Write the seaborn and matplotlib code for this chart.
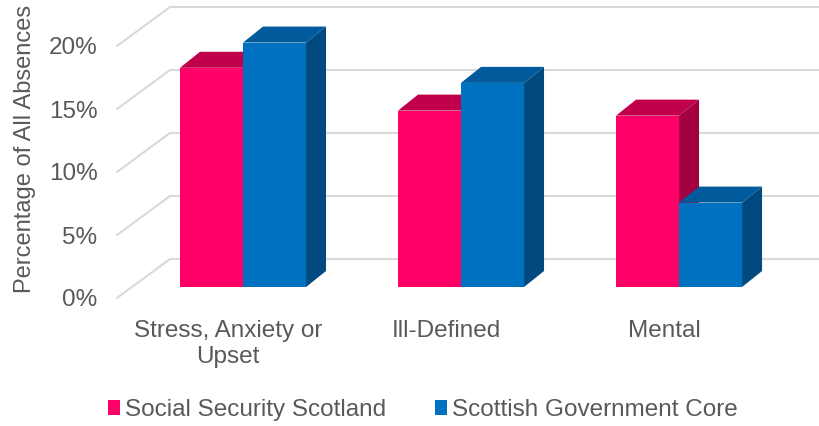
import matplotlib
matplotlib.use("Agg")
import matplotlib.pyplot as plt
import pandas as pd
import seaborn as sns
from matplotlib.patches import Polygon

# data (percent of all absences)
categories = ["Stress, Anxiety or\nUpset", "Ill-Defined", "Mental"]
series = ["Social Security Scotland", "Scottish Government Core"]
sss_values = [17.4, 14.0, 13.6]
sgc_values = [19.4, 16.2, 6.7]
tick_values = [0, 5, 10, 15, 20]
tick_labels = ["0%", "5%", "10%", "15%", "20%"]

front_colors = ["#FF0066", "#0070C0"]
top_colors = ["#C0004B", "#005A9C"]
side_colors = ["#A3003F", "#004A80"]
grid_color = "#D9D9D9"
text_color = "#595959"

df = pd.DataFrame({
    "category": categories * 2,
    "series": [s for s in series for _ in categories],
    "value": sss_values + sgc_values,
})

sns.set_theme(style="white")
plt.rcParams["font.family"] = ["Liberation Sans", "DejaVu Sans"]

fig = plt.figure(figsize=(8.19, 4.26), dpi=100)
ax = fig.add_axes([117 / 819, 128 / 426, 702 / 819, 298 / 426])

sns.barplot(data=df, x="category", y="value", hue="series",
            palette=front_colors, saturation=1, width=0.578,
            linewidth=0, ax=ax, zorder=4)

# pixel -> data conversions for the fake 3d depth
px_x, px_y = 218.0, 12.6
floor_shift = 11 / px_y
wall_dx, wall_dy = 53 / px_x, 39 / px_y
bar_dx, bar_dy = 20 / px_x, 16 / px_y

xmin, xmax = -0.578, 2.642
ax.set_xlim(xmin, xmax)
ax.set_ylim(-floor_shift, 287 / px_y)

# side wall + back wall gridlines
for v in tick_values:
    y0 = v - floor_shift
    ax.plot([xmin, xmin + wall_dx, xmax], [y0, y0 + wall_dy, y0 + wall_dy],
            color=grid_color, lw=1.5, zorder=1, clip_on=False)

# top and side faces of each bar
for i, cont in enumerate(ax.containers):
    for bar in cont:
        x0, w, h = bar.get_x(), bar.get_width(), bar.get_height()
        top = [(x0, h), (x0 + w, h), (x0 + w + bar_dx, h + bar_dy), (x0 + bar_dx, h + bar_dy)]
        side = [(x0 + w, 0), (x0 + w, h), (x0 + w + bar_dx, h + bar_dy), (x0 + w + bar_dx, bar_dy)]
        ax.add_patch(Polygon(side, closed=True, facecolor=side_colors[i], lw=0, zorder=2))
        ax.add_patch(Polygon(top, closed=True, facecolor=top_colors[i], lw=0, zorder=3))

handles, labels = ax.get_legend_handles_labels()
ax.get_legend().remove()

ax.set_xticks([i - 15 / px_x for i in range(len(categories))], categories)
ax.set_yticks([v - floor_shift for v in tick_values], tick_labels)
ax.tick_params(length=0, labelsize=17.5, labelcolor=text_color)
ax.tick_params(axis="x", pad=16)
ax.tick_params(axis="y", pad=14)
for s in ax.spines.values():
    s.set_visible(False)
ax.set_xlabel("")
ax.set_ylabel("Percentage of All Absences", fontsize=17, color=text_color)
ax.yaxis.set_label_coords(-0.115, 0.5)

fig.legend(handles, labels, loc="center", bbox_to_anchor=(423 / 819, 16 / 426),
           ncol=2, frameon=False, fontsize=17.5, handlelength=0.5,
           handleheight=0.55, handletextpad=0.2, columnspacing=2.0,
           labelcolor=text_color)

fig.savefig("out.png", dpi=100)
